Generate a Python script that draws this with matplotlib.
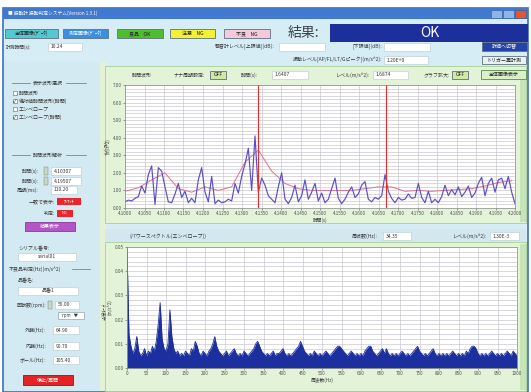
import matplotlib
matplotlib.use('Agg')
import matplotlib.pyplot as plt
from matplotlib.patches import Rectangle
from matplotlib.lines import Line2D
import numpy as np

plt.rcParams['font.family'] = ['Noto Sans CJK JP', 'DejaVu Sans']

# 時間波形 (m/s^2) : 4.1000 s から 0.1 s 分
wave_start = 4.1000
wave_span = 0.1000
wave = [0.35, 0.45, 0.40, 0.55, 0.65, 1.25, 0.85, 1.90, 2.40, 0.20,
        2.30, 2.10, 1.20, 0.35, 0.30, 0.80, 1.40, 0.60, 0.95, 0.30,
        0.55, 0.30, 1.60, 2.30, 0.90, 0.35, 1.80, 0.25, 0.45, 0.30,
        0.35, 0.50, 0.40, 1.40, 0.85, 1.80, 2.50, 3.40, 1.00, 4.10,
        0.90, 1.70, 1.30, 0.70, 0.50, 0.30, 1.20, 2.00, 0.50, 0.25,
        0.60, 1.30, 0.35, 0.70, 1.60, 0.50, 0.90, 1.40, 0.40, 0.85,
        0.30, 0.50, 1.10, 1.70, 0.55, 0.25, 0.50, 0.90, 1.20, 0.60,
        0.80, 1.30, 1.50, 0.50, 0.35, 0.60, 0.50, 0.70, 1.90, 0.95,
        0.55, 0.30, 0.60, 0.45, 0.50, 0.80, 0.55, 0.60, 1.40, 0.60,
        0.30, 0.95, 0.30, 0.50, 0.30, 0.65, 1.30, 0.70, 1.05, 0.75,
        1.20, 0.65, 0.90, 1.25, 0.60, 0.85, 1.40, 1.75, 0.70, 1.40,
        1.70, 0.90, 1.60, 1.70, 1.10, 1.80, 0.90, 0.25]
# エンベロープ (4サンプルごと)
envelope = [0.95, 1.15, 1.60, 2.00, 1.10, 0.90, 1.20, 1.00, 1.20, 2.60,
            3.30, 2.10, 1.40, 1.10, 1.00, 1.00, 1.00, 1.00, 1.10, 1.20,
            1.20, 0.95, 1.00, 0.95, 1.00, 1.05, 1.10, 1.25, 1.45, 1.55]
cursor_times = [4.1340, 4.1670]

# パワースペクトル (5Hz刻み, 単位 1e-3 m/s^2)
spec_step = 5.0
spec_milli = [50, 14, 9, 6, 8, 13, 7, 5, 6, 8, 5, 7, 6, 9, 7, 11, 18, 27, 12, 8,
              7, 10, 24, 13, 8, 6, 7, 5, 6, 5, 7, 6, 5, 8, 7, 11, 9, 6, 5, 7,
              6, 5, 7, 8, 10, 13, 9, 7, 6, 5, 6, 7, 5, 6, 7, 8, 6, 5, 6, 5,
              7, 6, 5, 6, 7, 8, 10, 11, 9, 7, 6, 5, 6, 5, 6, 7, 5, 6, 6, 7,
              8, 6, 5, 6, 5, 6, 7, 8, 9, 11, 9, 7, 6, 5, 6, 5, 7, 6, 5, 6,
              5, 6, 7, 6, 5, 6, 7, 8, 9, 9, 8, 7, 6, 5, 6, 7, 6, 5, 6, 5,
              6, 5, 7, 8, 9, 9, 7, 6, 5, 6, 7, 8, 6, 8, 6, 5, 6, 5, 6, 5,
              6, 7, 6, 5, 6, 5, 6, 7, 8, 9, 7, 6, 5, 6, 5, 6, 7, 8, 6, 5,
              6, 5, 6, 5, 6, 5, 6, 7, 6, 5, 6, 5, 6, 5, 7, 6, 8, 9, 9, 8,
              6, 5, 6, 5, 6, 5, 6, 7, 6, 5, 6, 5, 6, 5, 6, 7, 6, 5, 7, 6, 5]

W, H = 531, 392
fig = plt.figure(figsize=(W / 100, H / 100), dpi=100)
fig.patch.set_facecolor('white')


def rect(x, y, w, h, fc, ec='none', lw=0.6, z=-5):
    fig.patches.append(Rectangle((x / W, 1 - (y + h) / H), w / W, h / H,
                                 transform=fig.transFigure, facecolor=fc,
                                 edgecolor=ec, linewidth=lw, zorder=z))


def label(x, y, s, size=3.6, color='#383838', ha='left', **kw):
    fig.text(x / W, 1 - y / H, s, fontsize=size, color=color, ha=ha,
             va='center', **kw)


def hline(x0, x1, y, color='#707070', lw=0.5):
    fig.add_artist(Line2D([x0 / W, x1 / W], [1 - y / H, 1 - y / H],
                          transform=fig.transFigure, color=color, lw=lw))


def field(x, y, w, s, h=8, align='left'):
    rect(x, y - h / 2, w, h, 'white', ec='#b8c8d0', lw=0.4, z=-2)
    if align == 'center':
        label(x + w / 2, y, s, ha='center')
    else:
        label(x + 3, y, s)


def button(x, y, w, h, fc, s, color='#202020', ec='#607080'):
    rect(x, y, w, h, fc, ec=ec, lw=0.6, z=-2)
    label(x + w / 2, y + h / 2, s, ha='center', color=color)


# ウィンドウ
rect(3, 8, 525, 384, '#d7edf5', ec='#3a6fc0', lw=1.2, z=-9)
rect(3, 8, 525, 11, '#4079cf', z=-8)
label(8, 13.5, '■ 振動計 振動判定システム(Version 1.3.1)', size=3.4, color='white')
for bx, bc in [(491, '#8fb4e6'), (503, '#8fb4e6'), (515, '#e0582e')]:
    rect(bx, 9.5, 11, 8.5, bc, ec='#2a5aa8', lw=0.4, z=-7)

# 上部ボタン・判定表示
button(5, 29, 53, 9, '#54c8d2', '全体画像(ﾃﾞｰﾀ)')
button(63, 29, 45, 9, '#3a8fe2', '測定画像(ﾃﾞｰﾀ)', color='white')
button(117, 29, 46, 9, '#50bd2e', '良品    OK')
button(170, 29, 45, 9, '#f2f232', '注意    NG')
button(224, 29, 46, 9, '#f5c9da', '不良    NG')
label(303, 33, '結果:', size=10, color='#3c444c', ha='center')
rect(330, 24, 198, 18, '#1d2f9b', z=-6)
label(430, 33, 'OK', size=10, color='white', ha='center')

label(6, 47, '計測時間(s):', size=3.4)
field(48, 47, 34, '10.24')
label(275, 47, '騒音計レベル[上限値](dB):', ha='right')
field(279, 47, 46, '')
label(382, 47, '[下限値](dB):', ha='right')
field(384, 47, 46, '')
button(482, 42, 45, 9, '#2442a8', '詳細へ切替', color='white')
label(382, 60, '振動レベル[AP/FL/LT/Gピーク](m/s^2):', ha='right')
field(384, 60, 44, '1.20E+0')
button(482, 56, 44, 8, '#e8f2f0', 'トリガー再計測')

# 左パネル
rect(4, 62, 96, 329, '#d3eaf2', z=-7)
rect(100, 62, 6, 329, '#e2f2d3', z=-7)
label(103, 148, 'リセット', size=3, rotation=270, ha='center')
label(103, 312, 'ﾃﾞｰﾀ表示', size=3, rotation=270, ha='center')

hline(12, 30, 83)
hline(66, 86, 83)
label(48, 83, '表示波形選択', ha='center')
checks = [('時間波形', False), ('絶対値時間波形(時間)', True),
          ('エンベロープ', False), ('エンベロープ(時間)', True)]
for k, (name, on) in enumerate(checks):
    cy = 93 + 8 * k
    rect(13, cy - 2, 4, 4, 'white', ec='#606060', lw=0.4, z=-2)
    if on:
        label(15, cy, '✓', size=3.6, color='#202020', ha='center')
    label(19, cy, name)

hline(12, 30, 155)
hline(66, 86, 155)
label(48, 155, '時間波形解析', ha='center')
for cy, name, val in [(171, '時間(s):', '4.10307'), (181, '時間(s):', '4.19507')]:
    label(39, cy, name, ha='right')
    rect(44, cy - 3.5, 4, 7, '#c8d8c8', ec='#708070', lw=0.3, z=-2)
    field(51, cy, 30, val)
label(39, 190, '周期(ms):', ha='right')
field(51, 190, 26, '110.20')
label(55, 202, '一致で表示:', ha='right')
rect(57, 198, 24, 7, '#e8262e', z=-2)
label(69, 201.5, 'ｱﾝﾏｯﾁ', size=3, color='white', ha='center')
label(55, 213, '判定:', ha='right')
rect(57, 209.5, 16, 7, '#e8262e', z=-2)
label(65, 213, 'NG', size=3, color='white', ha='center')
button(25, 222, 50, 9, '#b455c6', '結果表示', color='white', ec='#8a3a9a')

label(18, 249, 'シリアル番号:')
field(18, 257, 58, 'serial01', align='center')
label(9, 269, '不良品判定(Hz)(m/s^2)')
hline(72, 90, 269)
label(18, 281, '品番名:')
field(18, 291, 60, '品番1', align='center')
label(46, 305, '回転数(rpm):', ha='right')
rect(48, 301, 4, 8, '#c8d8c8', ec='#708070', lw=0.3, z=-2)
field(55, 305, 24, '55.00')
rect(58, 312, 26, 7, 'white', ec='#8090a0', lw=0.4, z=-2)
label(62, 315.5, 'rpm   ▼', size=3.2)
for cy, name, val in [(330, '外輪(Hz):', '64.90'), (346, '内輪(Hz):', '90.70'),
                      (360, 'ボール(Hz):', '105.40')]:
    label(46, cy, name, ha='right')
    field(53, cy, 26, val)
button(23, 375, 50, 10, '#e42424', '停止/再開', color='white', ec='#a01010')

# グラフパネル
rect(105, 66, 421, 157, '#e3f3d8', ec='#a8cf98', lw=0.6, z=-6)
rect(105, 229, 421, 13, '#d3e7ef', z=-6)
rect(105, 242, 421, 149, '#e3f3d8', ec='#a8cf98', lw=0.6, z=-6)
rect(520, 80, 6, 142, '#c6e4b5', z=-5)
rect(520, 244, 6, 146, '#c6e4b5', z=-5)

label(132, 75, '時間波形')
label(205, 75, 'ナナ周期設定:', ha='right')
button(210, 71, 16, 8, '#cfe9a8', 'OFF')
label(258, 75, '時間(s):', ha='right')
field(272, 75, 36, '1.6407')
label(370, 75, 'レベル(m/s^2):', ha='right')
field(373, 75, 35, '1.6874')
label(450, 75, 'グラフ拡大:', ha='right')
button(452, 71, 16, 8, '#cfe9a8', 'OFF')
button(481, 70, 45, 9, '#d9f0c8', '全体画像表示', ec='#5a8a4a')

label(130, 236, '(パワースペクトル(エンベロープ))')
label(378, 236, '周波数(Hz):', ha='right')
field(383, 236, 28, '34.35')
label(487, 236, 'レベル(m/s^2):', ha='right')
field(490, 236, 29, '1.30E-3')


def style(ax):
    ax.set_facecolor('white')
    for sp in ax.spines.values():
        sp.set_color('#8a8a8a')
        sp.set_linewidth(0.5)
    ax.tick_params(which='major', labelsize=3.3, length=1.5, width=0.4,
                   pad=1, colors='#505050')
    ax.tick_params(which='minor', length=0)
    ax.grid(True, which='both', color='#c6c3cc', lw=0.45)
    ax.set_axisbelow(True)


# 時間波形
ax1 = fig.add_axes([125 / W, 1 - 208 / H, 390 / W, 123 / H])
t = wave_start + np.arange(len(wave)) * wave_span / (len(wave) - 1)
t_env = t[::4][:len(envelope)]
ax1.plot(t_env, envelope, color='#e0708a', lw=0.7)
ax1.plot(t, wave, color='#5a50c4', lw=0.85)
for ct in cursor_times:
    ax1.axvline(ct, color='#ee2a2a', lw=0.8)
ax1.set_xlim(wave_start, wave_start + wave_span)
ax1.set_ylim(0, 7)
ax1.set_xticks(wave_start + np.arange(21) * wave_span / 20)
ax1.set_xticklabels(['%.4f' % v for v in wave_start + np.arange(21) * wave_span / 20])
ax1.set_yticks(np.arange(8))
ax1.set_yticklabels(['%.2f' % v for v in range(8)])
ax1.set_yticks(np.arange(0, 7, 0.2), minor=True)
style(ax1)
ax1.set_xlabel('時間(s)', fontsize=3.4, labelpad=1, color='#404040')
ax1.set_ylabel('(m/s^2)', fontsize=3.2, labelpad=1, color='#404040')

# パワースペクトル
ax2 = fig.add_axes([127 / W, 1 - 368 / H, 390 / W, 121 / H])
freq = np.arange(len(spec_milli)) * spec_step
spec = np.array(spec_milli) * 1e-3
ax2.fill_between(freq, spec, color='#1b2f9e', lw=0)
ax2.plot(freq, spec, color='#1b2f9e', lw=0.6)
ax2.set_xlim(0, 1000)
ax2.set_ylim(0, 0.05)
ax2.set_xticks(np.arange(0, 1001, 50))
ax2.set_yticks(np.arange(6) * 0.01)
ax2.set_yticklabels(['%.2f' % (v * 0.01) for v in range(6)])
ax2.set_yticks(np.arange(0, 0.05, 0.002), minor=True)
style(ax2)
ax2.set_xlabel('周波数(Hz)', fontsize=3.4, labelpad=1, color='#404040')
ax2.set_ylabel('(m/s^2)', fontsize=3.2, labelpad=1, color='#404040')

fig.savefig('out.png', dpi=100)
